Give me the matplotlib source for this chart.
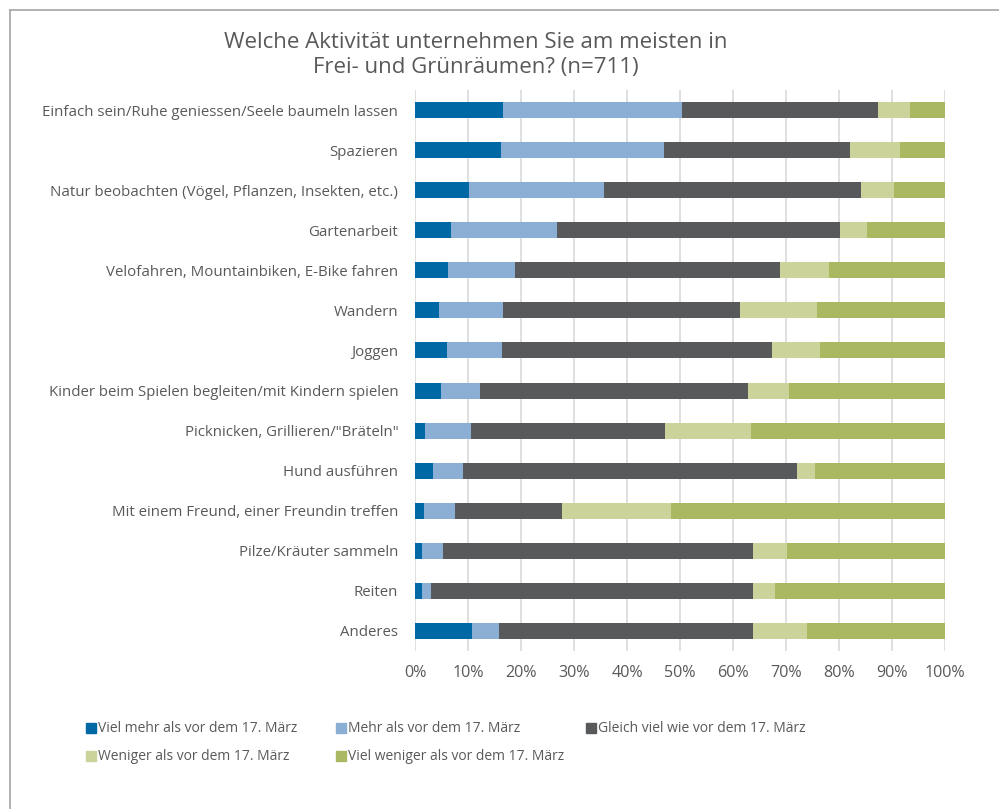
import matplotlib
matplotlib.use("Agg")
import matplotlib.pyplot as plt
import numpy as np
from matplotlib.patches import Rectangle
from matplotlib.lines import Line2D

plt.rcParams['font.family'] = ['Open Sans', 'DejaVu Sans']

activities = [
    "Einfach sein/Ruhe geniessen/Seele baumeln lassen",
    "Spazieren",
    "Natur beobachten (Vögel, Pflanzen, Insekten, etc.)",
    "Gartenarbeit",
    "Velofahren, Mountainbiken, E-Bike fahren",
    "Wandern",
    "Joggen",
    "Kinder beim Spielen begleiten/mit Kindern spielen",
    "Picknicken, Grillieren/\"Bräteln\"",
    "Hund ausführen",
    "Mit einem Freund, einer Freundin treffen",
    "Pilze/Kräuter sammeln",
    "Reiten",
    "Anderes",
]

# shares in percent, one list per answer
viel_mehr = [16.6, 16.2, 10.1, 6.8, 6.2, 4.5, 6.0, 4.9, 1.9, 3.4, 1.7, 1.3, 1.3, 10.8]
mehr = [33.8, 30.8, 25.6, 19.9, 12.7, 12.1, 10.4, 7.4, 8.6, 5.7, 5.9, 3.9, 1.8, 5.1]
gleich = [37.0, 35.0, 48.4, 53.4, 49.9, 44.7, 50.9, 50.5, 36.7, 63.0, 20.1, 58.5, 60.7, 47.9]
weniger = [6.0, 9.5, 6.3, 5.2, 9.3, 14.5, 9.2, 7.7, 16.2, 3.3, 20.6, 6.4, 4.2, 10.2]
viel_weniger = [6.6, 8.5, 9.6, 14.7, 21.9, 24.2, 23.5, 29.5, 36.6, 24.6, 51.7, 29.9, 32.0, 26.0]

series_names = [
    "Viel mehr als vor dem 17. März",
    "Mehr als vor dem 17. März",
    "Gleich viel wie vor dem 17. März",
    "Weniger als vor dem 17. März",
    "Viel weniger als vor dem 17. März",
]
colors = ["#0068a5", "#8bafd4", "#58595b", "#cbd39b", "#aab862"]

title_lines = ["Welche Aktivität unternehmen Sie am meisten in",
               "Frei- und Grünräumen? (n=711)"]

text_col = "#595959"
W, H = 999, 809

fig = plt.figure(figsize=(W / 100, H / 100), dpi=100)
ax = fig.add_axes([415 / W, 1 - 651 / H, 530 / W, 561 / H])

y = np.arange(len(activities))
left = np.zeros(len(activities))
for vals, c in zip([viel_mehr, mehr, gleich, weniger, viel_weniger], colors):
    vals = np.array(vals)
    ax.barh(y, vals, left=left, height=0.4, color=c, zorder=2)
    left += vals

ax.set_xlim(0, 100)
ax.set_ylim(len(activities) - 0.5, -0.5)
ax.set_xticks(np.arange(0, 101, 10))
ax.set_xticklabels([f"{v}%" for v in range(0, 101, 10)])
ax.set_yticks(y)
ax.set_yticklabels(activities)
ax.grid(axis='x', color="#d9d9d9", linewidth=1.2, zorder=0)
for s in ax.spines.values():
    s.set_visible(False)
ax.tick_params(axis='both', length=0, colors=text_col)
ax.tick_params(axis='y', pad=12, labelsize=10.8)
ax.tick_params(axis='x', pad=10, labelsize=11.6)

# title, one baseline per line
for line, base in zip(title_lines, [48, 73.5]):
    fig.text(476 / W, 1 - base / H, line, ha='center', va='baseline',
             fontsize=16, color=text_col)

# legend, row by row
leg_x = [86, 336, 586]
leg_y = [728, 756]
for i, (name, c) in enumerate(zip(series_names, colors)):
    px = leg_x[i % 3]
    py = leg_y[i // 3]
    fig.add_artist(Rectangle((px / W, 1 - (py + 5) / H), 10 / W, 10 / H,
                             transform=fig.transFigure, color=c))
    fig.text((px + 12) / W, 1 - py / H, name, ha='left', va='center',
             fontsize=10, color=text_col)

# chart frame
fig.add_artist(Line2D([10 / W, 1], [1 - 10 / H, 1 - 10 / H], transform=fig.transFigure,
                      color="#a6a6a6", linewidth=1.2))
fig.add_artist(Line2D([10 / W, 10 / W], [0, 1 - 10 / H], transform=fig.transFigure,
                      color="#a6a6a6", linewidth=1.2))

fig.savefig("out.png", dpi=100)
